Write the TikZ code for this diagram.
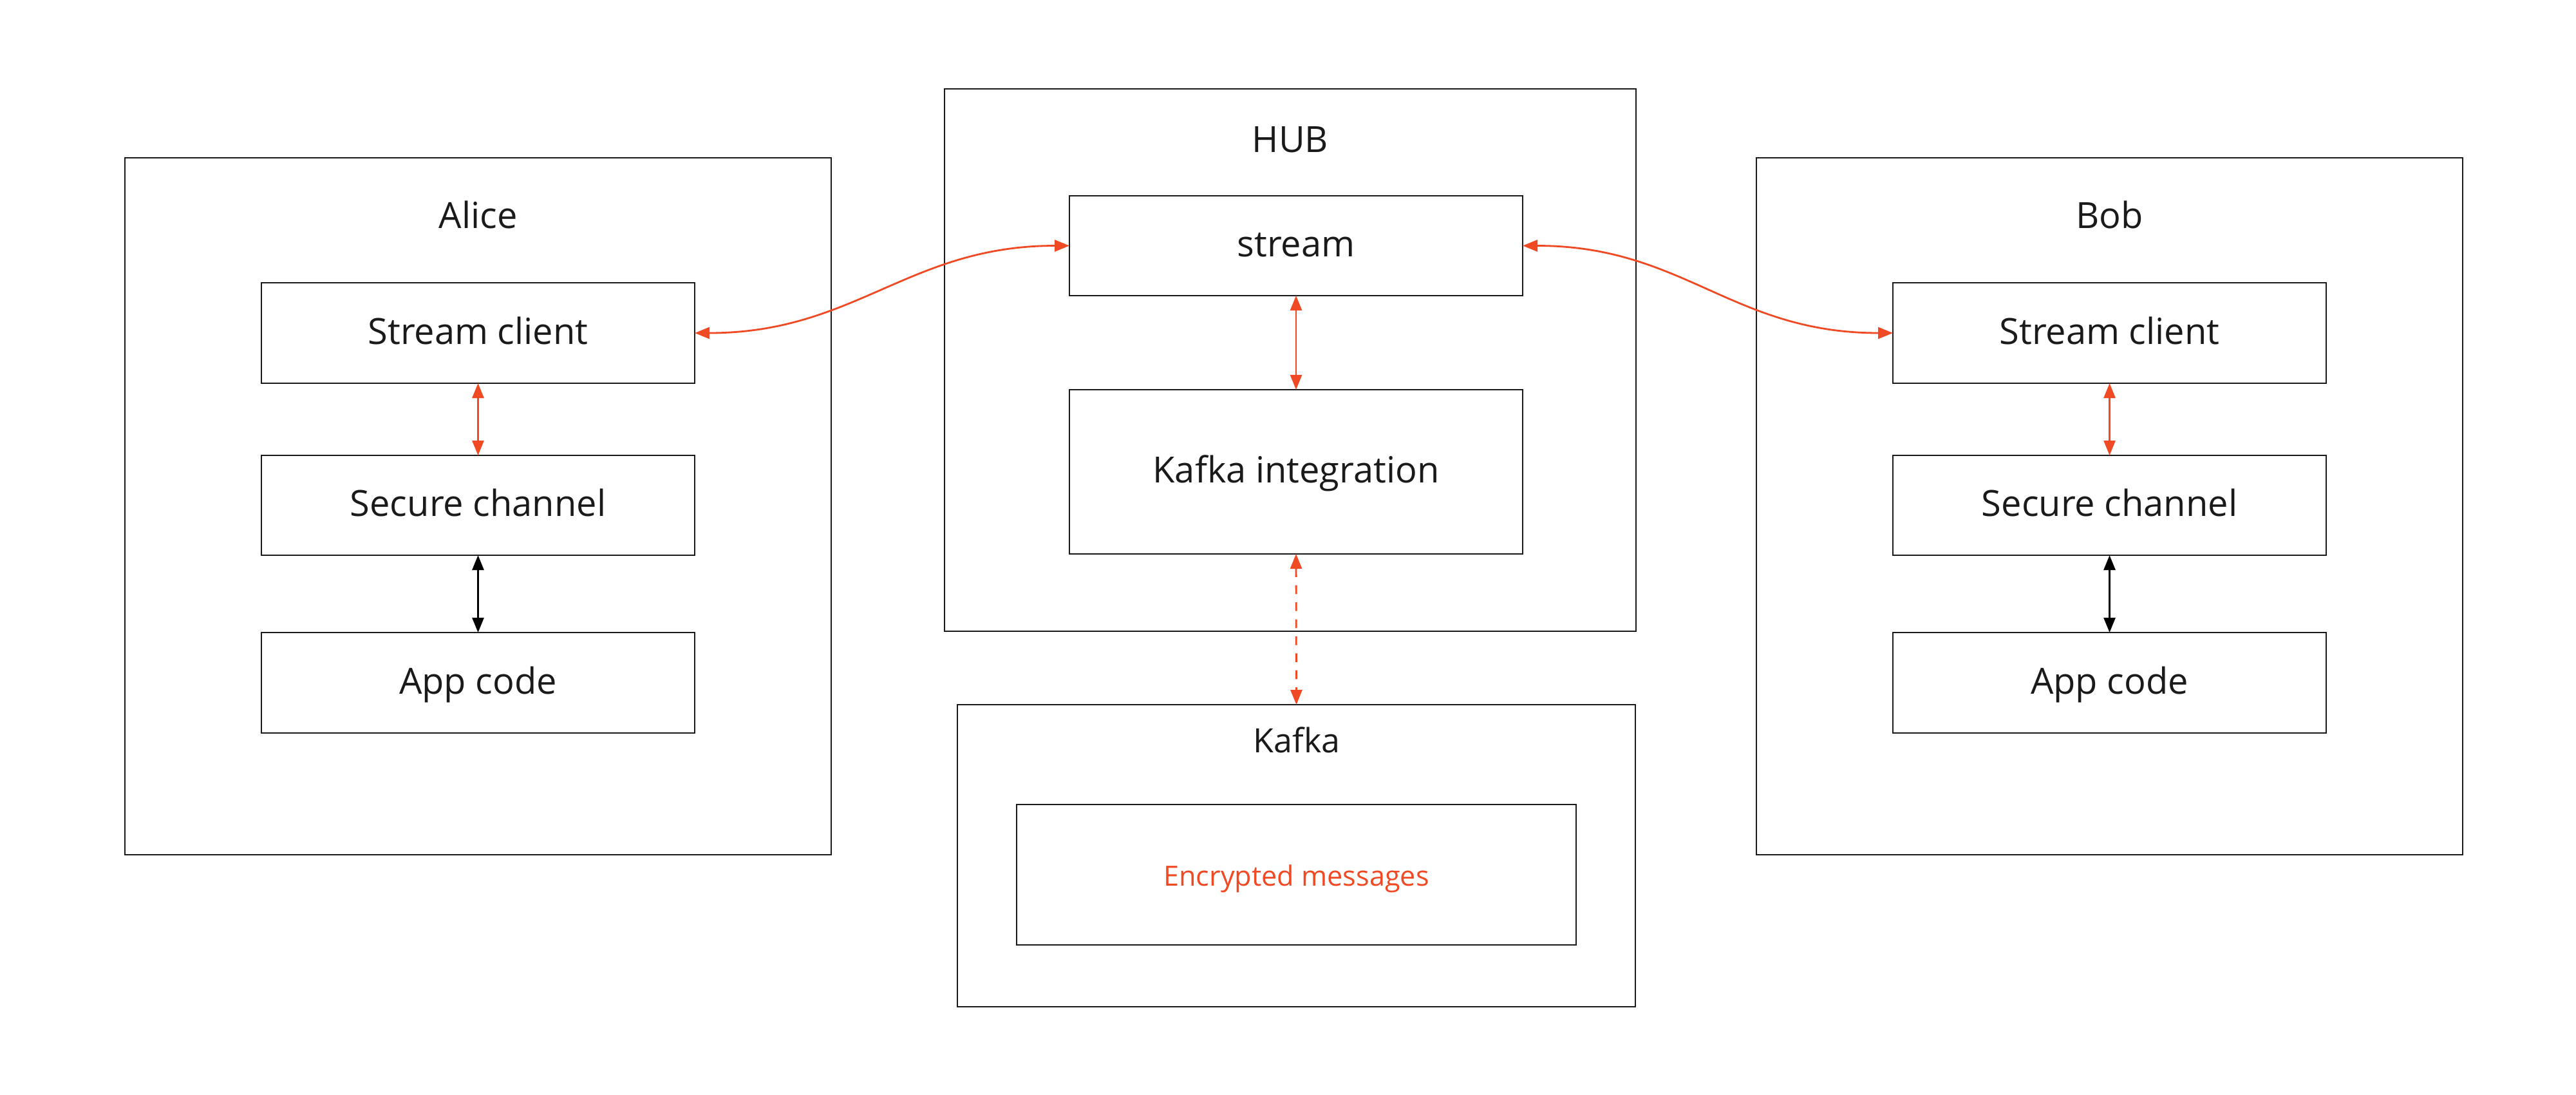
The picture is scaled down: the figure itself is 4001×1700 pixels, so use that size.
\documentclass[tikz,border=0pt]{standalone}
\usepackage{fontspec}
\setmainfont{Open Sans}
\usetikzlibrary{arrows.meta}
\definecolor{ink}{HTML}{1A1A1A}
\definecolor{hot}{HTML}{F04A25}
\def\PX{0.25pt}
\begin{document}
\begin{tikzpicture}[x=0.25pt,y=-0.25pt,
  frame/.style={draw=ink,line width=0.6pt,rectangle,inner sep=0pt,outer sep=0pt,text=ink,
    font=\fontsize{14}{16}\selectfont,text height=0.95em,text depth=0.1em},
  title/.style={text=ink,font=\fontsize{14}{16}\selectfont,inner sep=0pt},
  redlink/.style={draw=hot,line width=0.7pt,{Triangle[length=5.75pt,width=4.5pt]}-{Triangle[length=5.75pt,width=4.5pt]}},
  blacklink/.style={draw=black,line width=0.7pt,{Triangle[length=5.75pt,width=4.5pt]}-{Triangle[length=5.75pt,width=4.5pt]}}]
\useasboundingbox (0,0) rectangle (4001,1700);
% Alice
\node[frame,minimum width=1097*\PX,minimum height=1082*\PX] (alice) at (742.5,786) {};
\node[title] (alicet) at (742.5,334) {Alice};
\node[frame,minimum width=673*\PX,minimum height=156*\PX] (asc) at (742.5,517) {Stream client};
\node[frame,minimum width=673*\PX,minimum height=155*\PX] (asec) at (742.5,784.5) {Secure channel};
\node[frame,minimum width=673*\PX,minimum height=156*\PX] (aapp) at (742.5,1060) {App code};
% HUB
\node[frame,minimum width=1074*\PX,minimum height=842*\PX] (hub) at (2004,559) {};
\node[title] (hubt) at (2004,217) {HUB};
\node[frame,minimum width=704*\PX,minimum height=155*\PX] (stream) at (2013,381.5) {stream};
\node[frame,minimum width=704*\PX,minimum height=255*\PX] (kint) at (2013,732.5) {Kafka integration};
% Kafka
\node[frame,minimum width=1053*\PX,minimum height=469*\PX] (kafka) at (2013.5,1328.5) {};
\node[title,font=\fontsize{13}{15}\selectfont] (kafkat) at (2014,1149) {Kafka};
\node[frame,minimum width=869*\PX,minimum height=218*\PX,text=hot,font=\fontsize{10.8}{13}\selectfont] (enc) at (2013.5,1358) {Encrypted messages};
% Bob
\node[frame,minimum width=1097*\PX,minimum height=1082*\PX] (bob) at (3276.5,786) {};
\node[title] (bobt) at (3276.5,334) {Bob};
\node[frame,minimum width=673*\PX,minimum height=156*\PX] (bsc) at (3276.5,517) {Stream client};
\node[frame,minimum width=673*\PX,minimum height=155*\PX] (bsec) at (3276.5,784.5) {Secure channel};
\node[frame,minimum width=673*\PX,minimum height=156*\PX] (bapp) at (3276.5,1060) {App code};
% connectors
\draw[redlink] (asc.south) -- (asec.north);
\draw[blacklink] (asec.south) -- (aapp.north);
\draw[redlink] (bsc.south) -- (bsec.north);
\draw[blacklink] (bsec.south) -- (bapp.north);
\draw[redlink] (stream.south) -- (kint.north);
\draw[redlink,dash pattern=on 3.4pt off 3.2pt] (kint.south) -- (kafka.north);
\draw[redlink] (asc.east) .. controls +(250,0) and +(-250,0) .. (stream.west);
\draw[redlink] (stream.east) .. controls +(250,0) and +(-250,0) .. (bsc.west);
\end{tikzpicture}
\end{document}
